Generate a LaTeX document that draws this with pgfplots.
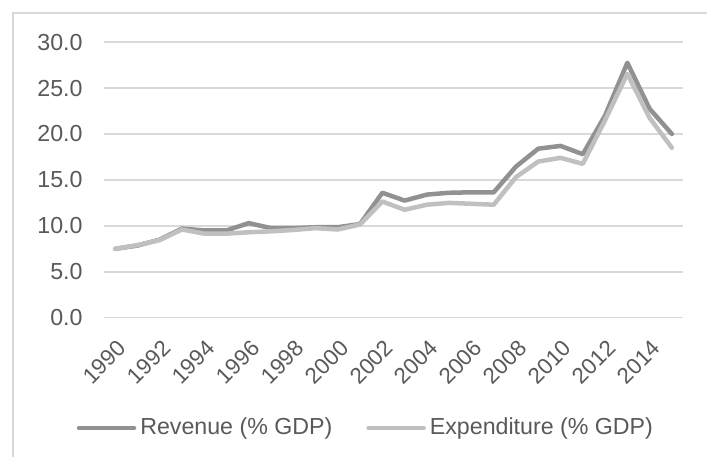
\documentclass[border=0pt]{standalone}
\usepackage{pgfplots}
\usepackage{pgfplotstable}
\pgfplotsset{compat=1.18}
\usepackage{fontspec}
\setmainfont{Liberation Sans}
\definecolor{revc}{RGB}{145,145,145}
\definecolor{expc}{RGB}{192,192,192}
\definecolor{gridc}{RGB}{217,217,217}
\definecolor{txtc}{RGB}{89,89,89}
\pgfplotstableread{
year rev exp
1990 7.5 7.5
1991 7.85 7.9
1992 8.5 8.45
1993 9.7 9.6
1994 9.5 9.15
1995 9.5 9.15
1996 10.3 9.3
1997 9.75 9.4
1998 9.75 9.55
1999 9.85 9.75
2000 9.85 9.6
2001 10.2 10.15
2002 13.6 12.65
2003 12.75 11.75
2004 13.4 12.3
2005 13.6 12.5
2006 13.65 12.4
2007 13.65 12.3
2008 16.45 15.3
2009 18.4 17.0
2010 18.7 17.4
2011 17.8 16.75
2012 22.0 21.5
2013 27.75 26.55
2014 22.75 21.75
2015 20.0 18.5
}\data
\begin{document}
\begin{tikzpicture}
\useasboundingbox (0,0) rectangle (353.5pt,228.5pt);
\draw[gridc, line width=0.6pt] (6.5pt,0) -- (6.5pt,222pt) -- (353.5pt,222pt);
\begin{axis}[
  at={(52pt,69.65pt)}, anchor=south west, scale only axis,
  width=289.5pt, height=137.8pt,
  xmin=1989.5, xmax=2015.5, ymin=0, ymax=30,
  axis line style={draw=none},
  tick style={draw=none},
  ytick={0,5,...,30},
  xtick={1990,1992,...,2014},
  ymajorgrids, grid style={gridc, line width=0.75pt},
  /pgf/number format/assume math mode=true,
  yticklabel style={/pgf/number format/.cd, fixed, fixed zerofill, precision=1, /tikz/.cd,
     font=\fontsize{11.6}{13}\selectfont, text=txtc, anchor=east, inner sep=0pt, xshift=-10.5pt},
  xticklabel style={/pgf/number format/1000 sep={}, font=\fontsize{11.2}{13}\selectfont, text=txtc,
     xshift=3.5pt, yshift=-13.3pt, rotate=45, anchor=east, inner sep=0pt},
  legend style={at={(0.454,-0.40)}, anchor=center, draw=none, fill=none,
     legend columns=2, font=\fontsize{11.6}{13}\selectfont, text=txtc,
     /tikz/every even column/.append style={column sep=15pt},
     inner sep=0pt},
  legend cell align=left,
  legend image code/.code={\draw[#1, line width=2.25pt] (0pt,0pt) -- (27.5pt,0pt);},
]
\addplot[revc, line width=2.25pt, line join=round, line cap=round] table[x=year, y=rev] {\data};
\addlegendentry{Revenue (\% GDP)}
\addplot[expc, line width=2.25pt, line join=round, line cap=round] table[x=year, y=exp] {\data};
\addlegendentry{Expenditure (\% GDP)}
\end{axis}
\end{tikzpicture}
\end{document}
